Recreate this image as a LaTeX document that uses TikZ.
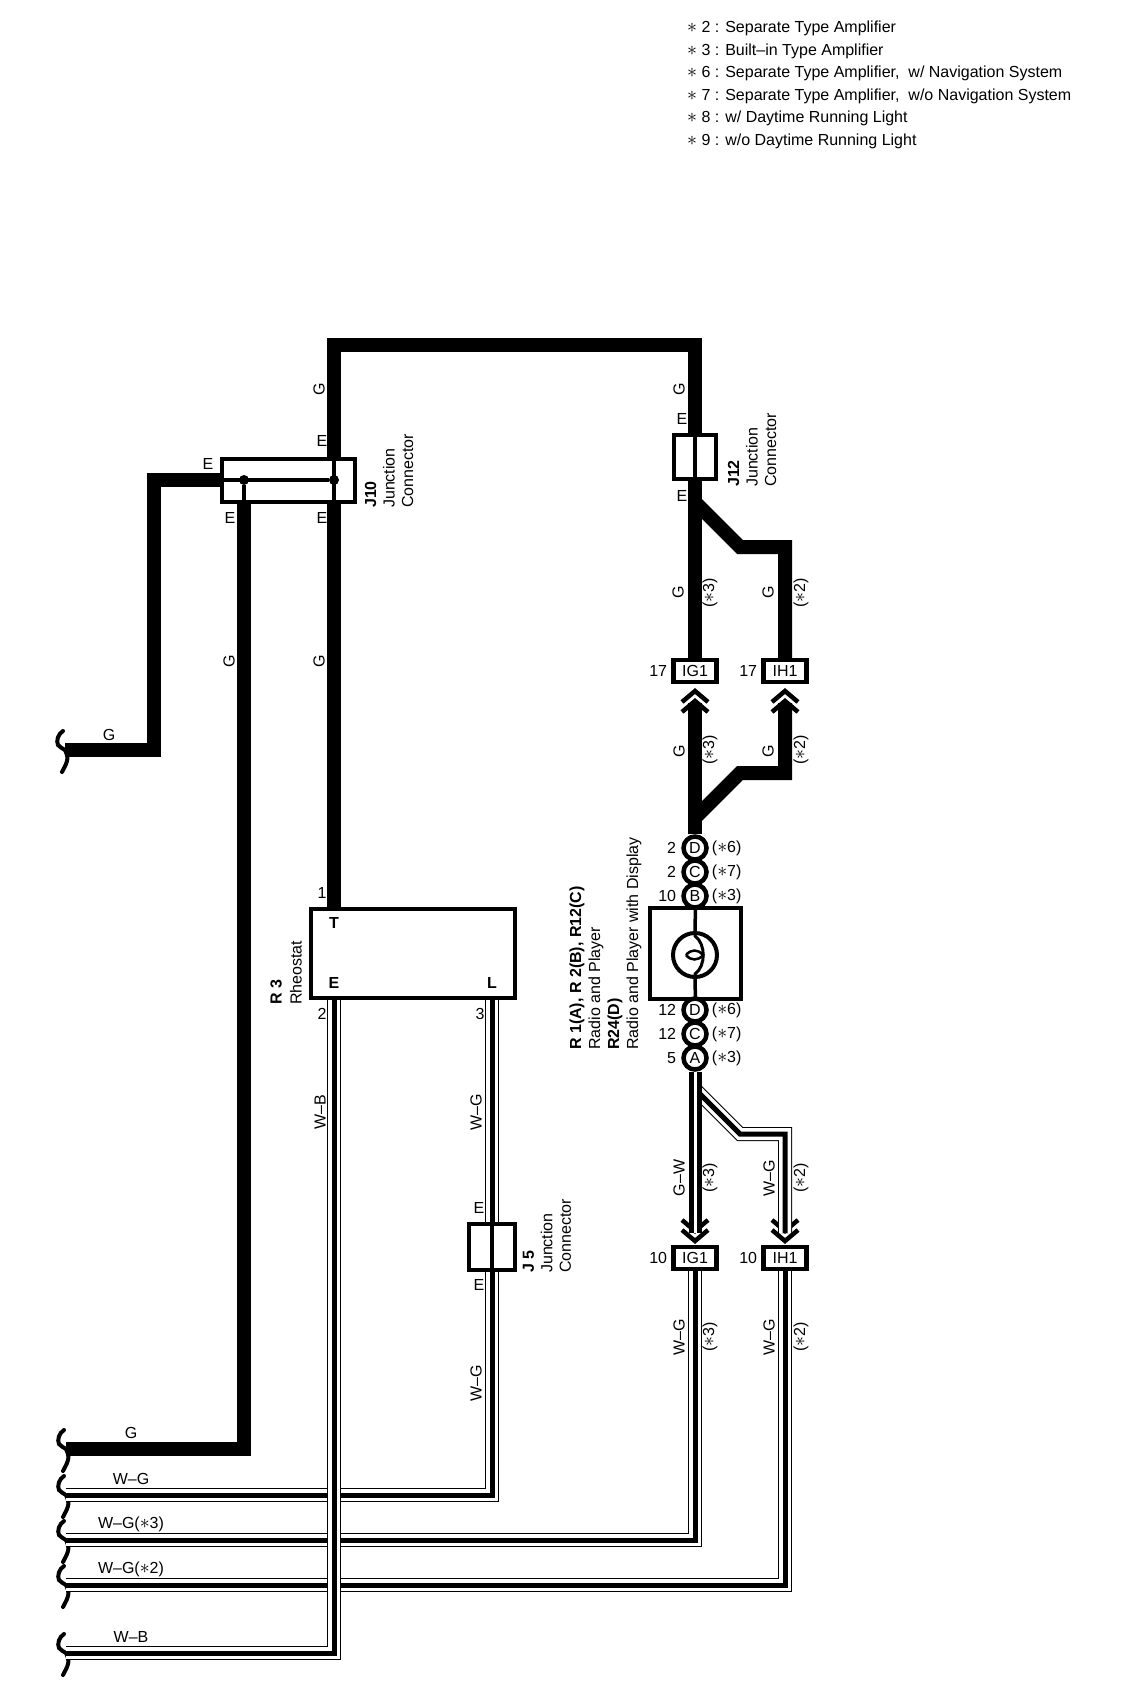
\documentclass[tikz,border=0pt]{standalone}
\usepackage{fontspec}
\setsansfont{Liberation Sans}
\usetikzlibrary{positioning}
\newcommand{\stsym}{\scalebox{1.15}{$\ast$}}

\begin{document}
\begin{tikzpicture}[x=1pt,y=-1pt,
    font=\sffamily\fontsize{16}{18.5}\selectfont,
    lbl/.style={inner sep=0pt},
    vlbl/.style={lbl,rotate=90},
    sidelbl/.style={lbl,rotate=90,anchor=west,align=left},
    legend/.style={lbl,anchor=west},
    jbox/.style={rectangle,draw,line width=4pt,minimum width=42pt,minimum height=44pt,inner sep=0pt},
    conn/.style={rectangle,draw,line width=4.5pt,minimum width=43pt,minimum height=22pt,inner sep=0pt},
    pin/.style={circle,draw,line width=4.5pt,minimum size=23pt,inner sep=0pt,fill=white},
    gwire/.style={line width=14pt},
    inner/.style={line width=3.5pt},
    wgwire/.style={line width=14pt,postaction={draw,white,line width=12pt},postaction={draw,black,line width=5pt}},
    gwwire/.style={line width=13pt,postaction={draw,white,line width=3pt}},
    chevup/.pic={
      \draw[line width=4.5pt] (-13,11) -- (0,0) -- (13,11);
      \draw[line width=4.5pt] (-13,21) -- (0,10) -- (13,21);
    },
    wirebrk/.pic={
      \draw[line width=4pt,line cap=round] (-2,-19) .. controls (-7,-16) and (-9,-9) .. (-7,-5)
        .. controls (-5,-2) and (-2,-2) .. (0,0) .. controls (2,4) and (3,8) .. (2,11)
        .. controls (1,15) and (-1,18) .. (-3,22);
    }]
  \useasboundingbox (0,0) rectangle (1120,1704);

  % notes
  \node[legend] (note2) at (687,28) {\stsym\ 2 : Separate Type Amplifier};
  \node[legend] (note3) at (687,51) {\stsym\ 3 : Built--in Type Amplifier};
  \node[legend] (note6) at (687,73) {\stsym\ 6 : Separate Type Amplifier,\ \ w/ Navigation System};
  \node[legend] (note7) at (687,96) {\stsym\ 7 : Separate Type Amplifier,\ \ w/o Navigation System};
  \node[legend] (note8) at (687,118) {\stsym\ 8 : w/ Daytime Running Light};
  \node[legend] (note9) at (687,141) {\stsym\ 9 : w/o Daytime Running Light};

  % junction connectors
  \node[jbox,minimum width=133pt,minimum height=43pt] (j10) at (288.5,480) {};
  \node[jbox] (j12) at (695,457) {};
  \node[jbox,minimum width=46pt,minimum height=46pt] (j5) at (492,1247) {};
  \node[sidelbl] (j10lbl) at (389,508) {\textbf{J10}\\Junction\\Connector};
  \node[sidelbl] (j12lbl) at (752,487) {\textbf{J12}\\Junction\\Connector};
  \node[sidelbl] (j5lbl) at (547,1273) {\textbf{J 5}\\Junction\\Connector};
  \node[circle,fill,inner sep=0pt,minimum size=10pt] (dotA) at (244,480) {};
  \node[circle,fill,inner sep=0pt,minimum size=10pt] (dotB) at (334,480) {};
  \draw[line width=4pt] (j10.west) -- (dotB);
  \draw[inner] (dotA) -- (dotA |- j10.south);
  \draw[inner] (dotB |- j10.north) -- (dotB |- j10.south);
  \draw[inner] (j12.north) -- (j12.south);
  \draw[inner] (j5.north) -- (j5.south);

  % rheostat
  \node[jbox,minimum width=204pt,minimum height=89pt] (r3) at (413,953.5) {};
  \node[lbl] (r3T) at (334,923) {\textbf{T}};
  \node[lbl] (r3E) at (334,983) {\textbf{E}};
  \node[lbl] (r3L) at (492,983) {\textbf{L}};
  \node[sidelbl,font=\sffamily\fontsize{16}{20}\selectfont] (r3lbl) at (286,1005) {\textbf{R 3}\\Rheostat};

  % radio
  \node[jbox,minimum width=91pt,minimum height=91pt] (radio) at (695.5,953.5) {};
  \node[circle,draw,line width=4pt,minimum size=44pt,inner sep=0pt] (ring) at (695,955) {};
  \coordinate (eyeL) at (686,955);
  \coordinate (eyeR) at (703,955);
  \draw[line width=2.5pt] (eyeL) .. controls (691,949) and (698,949) .. (eyeR) .. controls (698,961) and (691,961) .. (eyeL);
  \draw[inner] (radio.north) -- (ring.north);
  \draw[inner] (ring.south) -- (radio.south);
  \draw[line width=3pt] (ring.north) -- (695,936) .. controls (706,944) and (706,966) .. (695,974) -- (ring.south);
  \node[sidelbl,font=\sffamily\fontsize{16}{19}\selectfont] (radiolbl) at (605.5,1050)
    {\textbf{R 1(A), R 2(B), R12(C)}\\Radio and Player\\\textbf{R24(D)}\\Radio and Player with Display};

  \node[pin] (pinB) at (695,896) {B};
  \node[pin,above=-3.5pt of pinB] (pinC) {C};
  \node[pin,above=-3.5pt of pinC] (pinD) {D};
  \node[pin] (pinA) at (695,1058) {A};
  \node[pin,above=-3.5pt of pinA] (pinCb) {C};
  \node[pin,above=-3.5pt of pinCb] (pinDb) {D};
  \node[lbl,left=5pt of pinD] (noD) {2};
  \node[lbl,left=5pt of pinC] (noC) {2};
  \node[lbl,left=5pt of pinB] (noB) {10};
  \node[lbl,left=5pt of pinDb] (noDb) {12};
  \node[lbl,left=5pt of pinCb] (noCb) {12};
  \node[lbl,left=5pt of pinA] (noA) {5};
  \node[lbl,right=3pt of pinD] (optD) {(\stsym6)};
  \node[lbl,right=3pt of pinC] (optC) {(\stsym7)};
  \node[lbl,right=3pt of pinB] (optB) {(\stsym3)};
  \node[lbl,right=3pt of pinDb] (optDb) {(\stsym6)};
  \node[lbl,right=3pt of pinCb] (optCb) {(\stsym7)};
  \node[lbl,right=3pt of pinA] (optA) {(\stsym3)};

  % amplifier connectors
  \node[conn] (ig1a) at (695,671) {IG1};
  \node[conn] (ih1a) at (785,671) {IH1};
  \node[conn] (ig1b) at (695,1258) {IG1};
  \node[conn] (ih1b) at (785,1258) {IH1};
  \node[lbl,left=4pt of ig1a] (no17a) {17};
  \node[lbl,left=4pt of ih1a] (no17b) {17};
  \node[lbl,left=4pt of ig1b] (no10a) {10};
  \node[lbl,left=4pt of ih1b] (no10b) {10};
  \pic at (695,691) {chevup};
  \pic at (785,691) {chevup};
  \pic[rotate=180] at (695,1241) {chevup};
  \pic[rotate=180] at (785,1241) {chevup};

  % free ends and bends
  \coordinate (topL) at (334,345);
  \coordinate (topR) at (695,345);
  \coordinate (brkTop) at (65,750);
  \coordinate (bendTop) at (154,750);
  \coordinate (bendJ10) at (154,480);
  \coordinate (brkG) at (66,1449);
  \coordinate (brkWG) at (66,1495);
  \coordinate (brkWGc) at (66,1540);
  \coordinate (brkWGb) at (66,1585);
  \coordinate (brkWB) at (66,1653);
  \coordinate (tapA) at (695,502);
  \coordinate (tapA2) at (740,547);
  \coordinate (tapA3) at (785,547);
  \coordinate (tapB) at (695,818);
  \coordinate (tapB2) at (740,773);
  \coordinate (tapB3) at (785,773);
  \coordinate (tipG) at (695,703);
  \coordinate (tipH) at (785,703);
  \coordinate (tapC) at (695,1089);
  \coordinate (tapC2) at (740,1134);
  \coordinate (tapC3) at (785,1134);
  \coordinate (tipGb) at (695,1233);
  \coordinate (tipHb) at (785,1233);
  \foreach \e in {brkTop,brkG,brkWG,brkWGc,brkWGb,brkWB} \pic at (\e) {wirebrk};

  % wires
  \draw[gwire] (brkTop) -- (bendTop) -- (bendJ10) -- (j10.west);
  \draw[gwire] (dotB |- j10.north) -- (topL) -- (topR) -- (j12.north);
  \draw[gwire] (dotB |- j10.south) -- (dotB |- r3.north);
  \draw[gwire] (dotA |- j10.south) -- (dotA |- brkG) -- (brkG);
  \draw[gwire] (j12.south) -- (ig1a.north);
  \draw[gwire] (tapA) -- (tapA2) -- (tapA3) -- (ih1a.north);
  \draw[gwire] (pinD.north) -- (tipG);
  \draw[gwire] (tapB) -- (tapB2) -- (tapB3) -- (tipH);

  \draw[wgwire] (tapC) -- (tapC2) -- (tapC3) -- (tipHb);
  \draw[gwwire] (pinA.south) -- (tipGb);
  \draw[wgwire] (r3L |- r3.south) -- (r3L |- j5.north);
  \draw[wgwire] (r3L |- j5.south) -- (r3L |- brkWG) -- (brkWG);
  \draw[wgwire] (ig1b.south) -- (ig1b |- brkWGc) -- (brkWGc);
  \draw[wgwire] (ih1b.south) -- (ih1b |- brkWGb) -- (brkWGb);
  \draw[wgwire] (r3E |- r3.south) -- (r3E |- brkWB) -- (brkWB);

  % wire labels
  \node[lbl] (eTop) at (322,441) {E};
  \node[lbl] (eLeft) at (208,464) {E};
  \node[lbl] (eBotA) at (230,518) {E};
  \node[lbl] (eBotB) at (322,518) {E};
  \node[lbl] (eJ12a) at (682,419) {E};
  \node[lbl] (eJ12b) at (682,496) {E};
  \node[lbl] (eJ5a) at (479,1208) {E};
  \node[lbl] (eJ5b) at (479,1285) {E};
  \node[lbl] (no1) at (322,893) {1};
  \node[lbl] (no2) at (322,1014) {2};
  \node[lbl] (no3) at (480,1014) {3};
  \node[vlbl] (gTopL) at (319,389) {G};
  \node[vlbl] (gTopR) at (679,389) {G};
  \node[vlbl] (gMidA) at (229,661) {G};
  \node[vlbl] (gMidB) at (319,661) {G};
  \node[lbl] (gBrkTop) at (109,735) {G};
  \node[vlbl] (gIg1a) at (678,592) {G};
  \node[vlbl] (s3a) at (710,593) {(\stsym3)};
  \node[vlbl] (gIh1a) at (768,592) {G};
  \node[vlbl] (s2a) at (801,593) {(\stsym2)};
  \node[vlbl] (gIg1b) at (679,751) {G};
  \node[vlbl] (s3b) at (710,750) {(\stsym3)};
  \node[vlbl] (gIh1b) at (768,751) {G};
  \node[vlbl] (s2b) at (801,750) {(\stsym2)};
  \node[vlbl] (gw) at (679,1178) {G--W};
  \node[vlbl] (s3c) at (710,1178) {(\stsym3)};
  \node[vlbl] (wgUp) at (769,1178) {W--G};
  \node[vlbl] (s2c) at (801,1178) {(\stsym2)};
  \node[vlbl] (wgA) at (679,1337) {W--G};
  \node[vlbl] (s3d) at (710,1337) {(\stsym3)};
  \node[vlbl] (wgB) at (769,1337) {W--G};
  \node[vlbl] (s2d) at (801,1337) {(\stsym2)};
  \node[vlbl] (wb) at (320,1112) {W--B};
  \node[vlbl] (wgJ5a) at (476,1112) {W--G};
  \node[vlbl] (wgJ5b) at (476,1383) {W--G};
  \node[lbl] (gBrk) at (131,1433) {G};
  \node[lbl] (wgBrk) at (131,1479) {W--G};
  \node[lbl] (wgBrkc) at (131,1524) {W--G(\stsym3)};
  \node[lbl] (wgBrkb) at (131,1569) {W--G(\stsym2)};
  \node[lbl] (wbBrk) at (131,1637) {W--B};
\end{tikzpicture}
\end{document}
